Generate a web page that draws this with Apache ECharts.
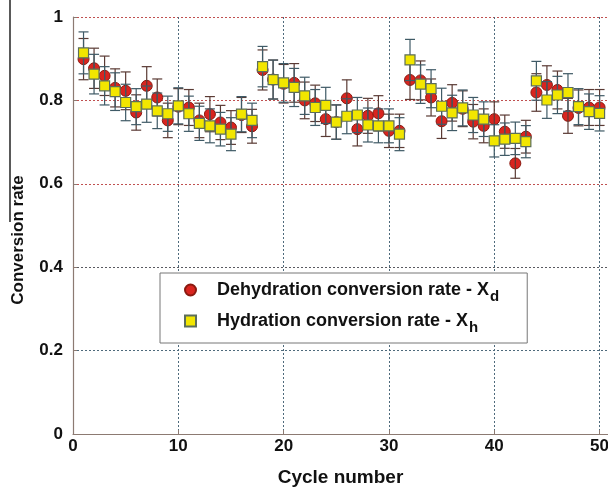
<!DOCTYPE html>
<html>
<head>
<meta charset="utf-8">
<script src="https://cdn.jsdelivr.net/npm/echarts@6/dist/echarts.min.js"></script>
<style>html,body{margin:0;padding:0;background:#fff}#c{width:608px;height:489px}</style>
</head>
<body>
<div id="c"></div>
<script>
const cycles = [1,2,3,4,5,6,7,8,9,10,11,12,13,14,15,16,17,18,19,20,21,22,23,24,25,26,27,28,29,30,31,32,33,34,35,36,37,38,39,40,41,42,43,44,45,46,47,48,49,50];
const dehydration = [0.899,0.877,0.859,0.830,0.823,0.771,0.835,0.807,0.752,0.785,0.783,0.752,0.767,0.747,0.735,0.765,0.738,0.873,0.850,0.840,0.842,0.800,0.793,0.755,0.748,0.805,0.731,0.763,0.769,0.727,0.727,0.849,0.848,0.807,0.750,0.794,0.780,0.749,0.739,0.755,0.725,0.649,0.713,0.819,0.837,0.825,0.763,0.782,0.783,0.783];
const hydration = [0.914,0.863,0.835,0.821,0.795,0.785,0.791,0.775,0.768,0.787,0.768,0.745,0.739,0.731,0.719,0.767,0.752,0.881,0.850,0.842,0.831,0.811,0.783,0.788,0.748,0.762,0.765,0.741,0.739,0.739,0.719,0.897,0.839,0.828,0.786,0.770,0.782,0.765,0.755,0.703,0.707,0.709,0.701,0.847,0.801,0.813,0.819,0.785,0.773,0.769];
const relError = 0.055; // relative uncertainty of each measurement
const xTicks = [0,10,20,30,40,50];
const yTicks = [0,0.2,0.4,0.6,0.8,1];

const chart = echarts.init(document.getElementById('c'), null, {renderer:'canvas'});

function errData(vals){ return cycles.map((c,i)=>[c, vals[i]*(1-relError), vals[i]*(1+relError)]); }
function errRender(color){
  return function(params, api){
    const x = api.value(0);
    const lo = api.coord([x, api.value(1)]);
    const hi = api.coord([x, api.value(2)]);
    const w = 5;
    const st = {stroke: color, lineWidth: 1.2};
    return {type:'group', children:[
      {type:'line', shape:{x1:lo[0],y1:lo[1],x2:hi[0],y2:hi[1]}, style:st},
      {type:'line', shape:{x1:lo[0]-w,y1:lo[1],x2:lo[0]+w,y2:lo[1]}, style:st},
      {type:'line', shape:{x1:hi[0]-w,y1:hi[1],x2:hi[0]+w,y2:hi[1]}, style:st}
    ]};
  };
}

const FF = 'Liberation Sans, Arial, sans-serif';
const labelFont = {fontFamily:FF, fontWeight:'bold', fontSize:17, color:'#111'};

const option = {
  animation:false,
  backgroundColor:'#fff',
  grid:{left:73, right:0, top:17, bottom:55, containLabel:false, outerBoundsMode:'none'},
  xAxis:{
    type:'value', min:0, max:50.8, interval:10,
    name:'Cycle number', nameLocation:'middle', nameGap:34,
    nameTextStyle:{fontFamily:FF, fontWeight:'bold', fontSize:19, color:'#111'},
    axisLine:{show:true, onZero:false, lineStyle:{color:'#8c7a72', width:1.2}},
    axisTick:{show:true, inside:true, length:4, lineStyle:{color:'#8c7a72'}},
    axisLabel:Object.assign({margin:4, formatter:v => xTicks.includes(v) ? String(v) : ''}, labelFont),
    splitLine:{show:true, lineStyle:{type:[2,2], color:'#4e6a7c', width:1}}
  },
  yAxis:{
    type:'value', min:0, max:1, interval:0.2,
    axisLine:{show:true, lineStyle:{color:'#8c7a72', width:1.2}},
    axisTick:{show:true, inside:true, length:4, lineStyle:{color:'#8c7a72'}},
    axisLabel:Object.assign({margin:10, formatter:v => { const t = yTicks.find(k=>Math.abs(k-v)<1e-9); return t===undefined?'':String(t);} }, labelFont),
    splitLine:{show:true, lineStyle:{type:[2,2], color:['#888','#4e6a7c','#5a5a60','#c05050','#c05050','#c05050'], width:1}}
  },
  legend:{
    orient:'vertical', left:160, top:273,
    backgroundColor:'#fff', borderColor:'#777', borderWidth:1, borderRadius:0,
    padding:[8,28,8,24], itemGap:8, itemWidth:11, itemHeight:11,
    data:[
      {name:'Dehydration conversion rate - X{s|d}', icon:'circle'},
      {name:'Hydration conversion rate - X{s|h}', icon:'rect'}
    ],
    textStyle:{fontFamily:FF, fontWeight:'bold', fontSize:18, color:'#111', padding:[0,0,0,16],
      rich:{s:{fontFamily:FF, fontWeight:'bold', fontSize:15, color:'#111', verticalAlign:'bottom', padding:[13,0,0,1]}}}
  },
  graphic:[
    {type:'line', shape:{x1:10,y1:0,x2:10,y2:222}, style:{stroke:'#000', lineWidth:1.3}},
    {type:'text', x:18, y:240, rotation:Math.PI/2,
      style:{text:'Conversion rate', fontFamily:FF, fontWeight:'bold', fontSize:17, fill:'#111', textAlign:'center', textVerticalAlign:'middle'}}
  ],
  series:[
    {name:'Dehydration conversion rate - X{s|d}', type:'scatter', z:2, symbol:'circle', symbolSize:11,
      itemStyle:{color:'#d9241f', borderColor:'#8a1a10', borderWidth:1, opacity:1},
      data:cycles.map((c,i)=>[c, dehydration[i]])},
    {name:'errD', type:'custom', z:3, renderItem:errRender('#5a3a34'), data:errData(dehydration), silent:true},
    {name:'errH', type:'custom', z:3, renderItem:errRender('#3f5a66'), data:errData(hydration), silent:true},
    {name:'Hydration conversion rate - X{s|h}', type:'scatter', z:4, symbol:'rect', symbolSize:10,
      itemStyle:{color:'#f2e600', borderColor:'#5c6e5a', borderWidth:1.2, opacity:1},
      data:cycles.map((c,i)=>[c, hydration[i]])}
  ]
};
chart.setOption(option);
</script>
</body>
</html>
